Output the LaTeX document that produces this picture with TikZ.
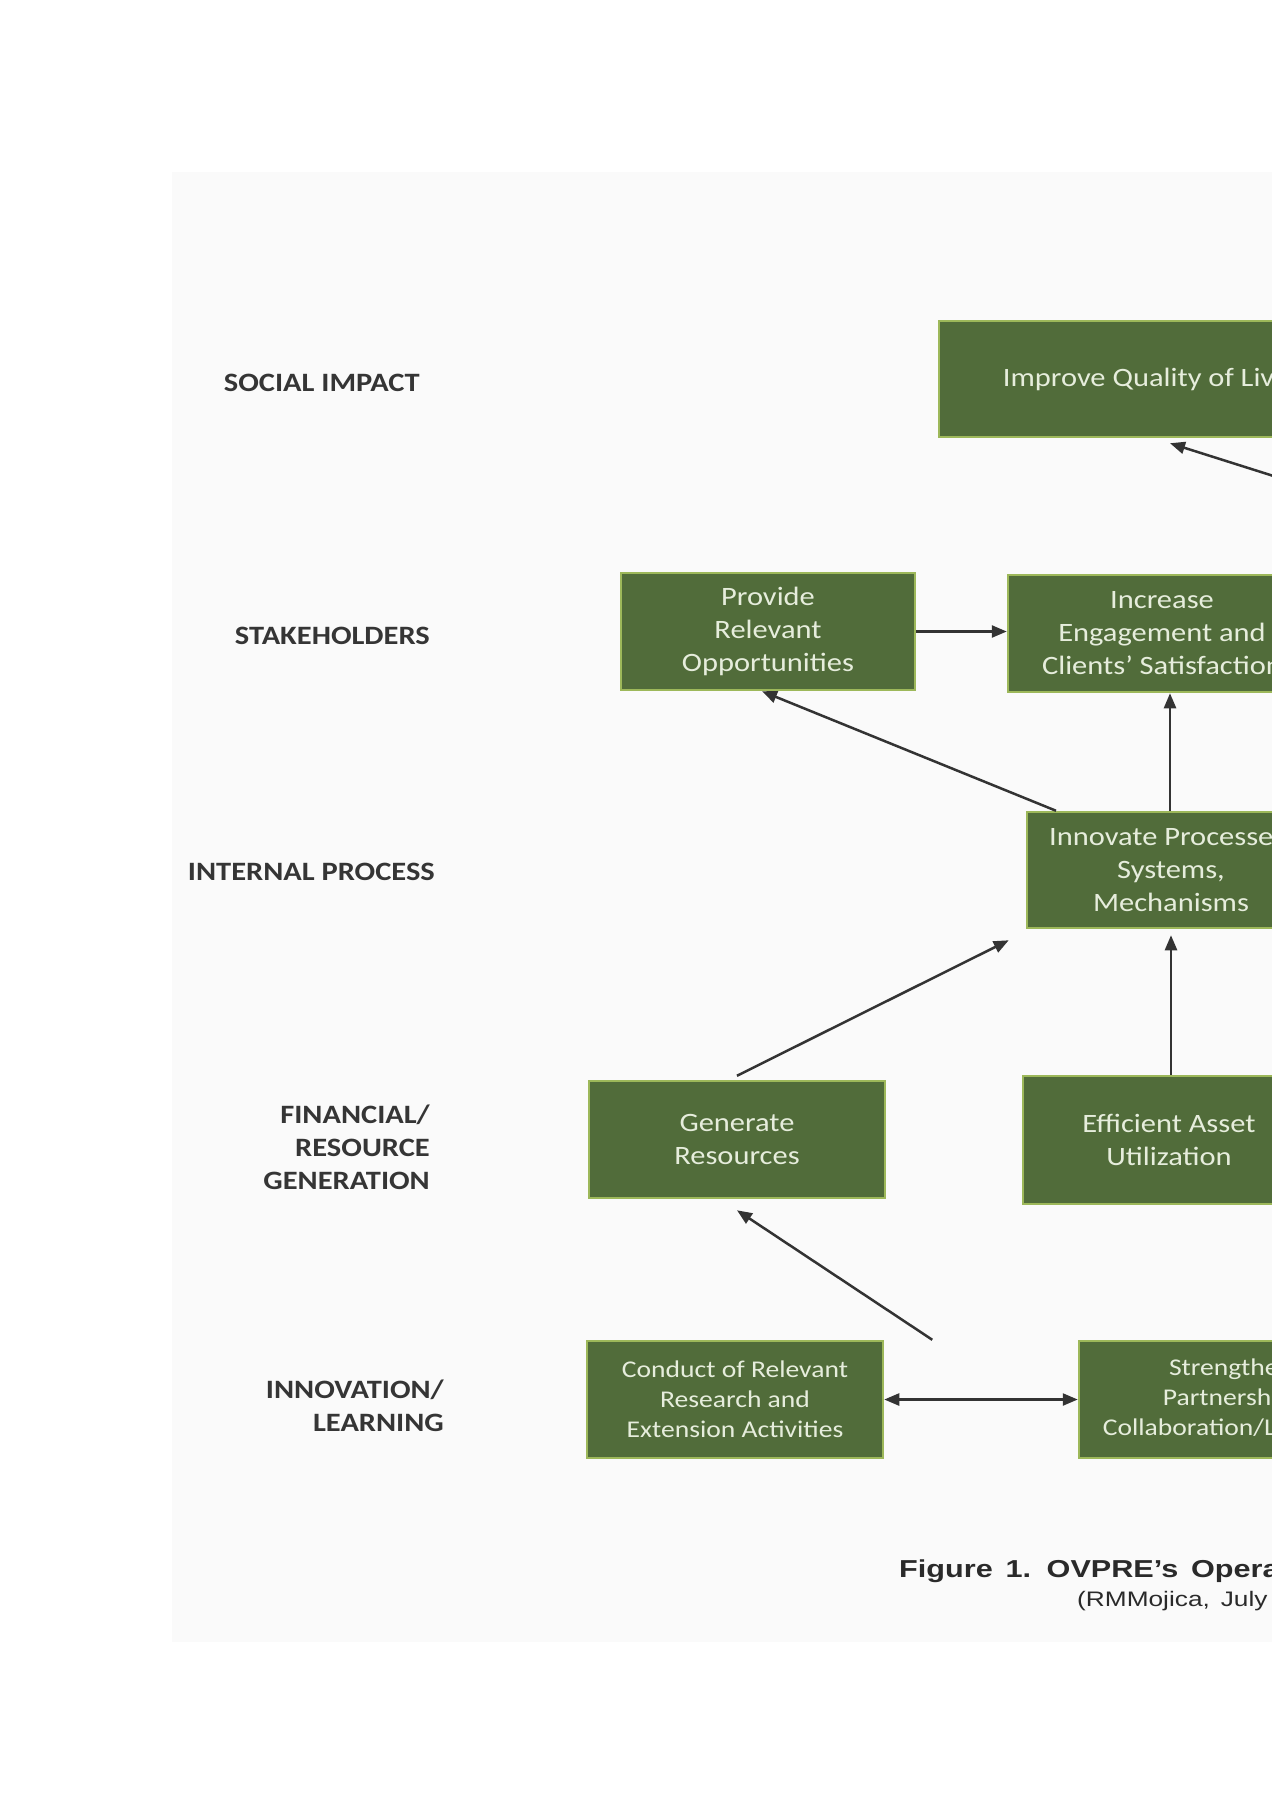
\documentclass[tikz,border=0pt]{standalone}
\usepackage{fontspec}
\setmainfont{Carlito}
\newfontfamily\boxfont[FakeStretch=1.15]{Carlito}
\newfontfamily\capfont[FakeStretch=1.25,WordSpace=1.8]{Liberation Sans}
\newfontfamily\capfontb[FakeStretch=1.25,WordSpace=1.5]{Liberation Sans}
\usetikzlibrary{arrows.meta}
\definecolor{boxfill}{HTML}{516C3A}
\definecolor{boxedge}{HTML}{9DB85A}
\definecolor{boxtext}{HTML}{E6EDDC}
\definecolor{labcol}{HTML}{353535}
\definecolor{capcol}{HTML}{2A2A2A}
\definecolor{arrcol}{HTML}{333333}
\definecolor{scanbg}{HTML}{FAFAFA}
\tikzset{
  box/.style={draw=boxedge, line width=2.5pt, fill=boxfill, text=boxtext,
    font=\boxfont\fontsize{26.5}{33}\selectfont, align=center, inner sep=0pt,
    minimum height=117pt},
  smallbox/.style={box, font=\boxfont\fontsize{24}{30}\selectfont},
  lab/.style={text=labcol, font=\boxfont\bfseries\fontsize{26.5}{33}\selectfont,
    align=right, inner sep=0pt, anchor=base east},
  conn/.style={draw=arrcol, line width=2.5pt, -{Triangle[length=15pt,width=12pt]}},
  conn2/.style={draw=arrcol, line width=2.5pt, {Triangle[length=15pt,width=12pt]}-{Triangle[length=15pt,width=12pt]}},
}
\begin{document}
\begin{tikzpicture}[x=1pt,y=-1pt]
\useasboundingbox (0,0) rectangle (1272,1800);
\clip (0,0) rectangle (1272,1800);
\fill[white] (0,0) rectangle (1272,1800);
\fill[scanbg] (172,172) rectangle (1272,1642);

% row labels (base anchor = last line)
\node[lab] (lsoc) at (420,391) {SOCIAL IMPACT};
\node[lab] (lsta) at (430,644) {STAKEHOLDERS};
\node[lab] (lint) at (435,880) {INTERNAL PROCESS};
\node[lab] (lfin) at (430,1189) {FINANCIAL/\\RESOURCE\\GENERATION};
\node[lab] (linn) at (444,1431) {INNOVATION/\\LEARNING};

% boxes
\node[box, minimum width=426pt, minimum height=116pt] (improve) at (1152,379) {Improve Quality of Lives};
\node[box, minimum width=294pt] (provide) at (768,631.5) {Provide\\Relevant\\Opportunities};
\node[box, minimum width=308pt] (increase) at (1162,633.5) {Increase\\Engagement and\\Clients’ Satisfaction};
\node[box, minimum width=288pt, minimum height=116pt] (innovate) at (1171,870) {Innovate Processes,\\Systems,\\Mechanisms};
\node[box, minimum width=296pt] (generate) at (737,1139.5) {Generate\\Resources};
\node[box, minimum width=292pt, minimum height=128pt] (efficient) at (1169,1140) {Efficient Asset\\Utilization};
\node[smallbox, minimum width=296pt] (conduct) at (735,1399.5) {Conduct of Relevant\\Research and\\Extension Activities};
\node[smallbox, minimum width=304pt] (strengthen) at (1231,1399.5) {Strengthen\\Partnership,\\Collaboration/Linkages};

% connectors
\coordinate (offright) at (1400,516);
\draw[conn] (offright) -- ([xshift=18pt,yshift=-5pt]improve.south);
\draw[conn] (provide.east) -- (provide.east -| increase.west);
\draw[conn] ([xshift=-115pt]innovate.north) -- ([xshift=-6pt]provide.south);
\draw[conn] ([xshift=-1pt]innovate.north) -- ([xshift=-1pt]innovate.north |- increase.south);
\draw[conn] ([yshift=4pt]generate.north) -- ([xshift=-17pt,yshift=-11pt]innovate.south west);
\draw[conn] ([xshift=2pt]efficient.north) -- ([xshift=2pt,yshift=-6pt]efficient.north |- innovate.south);
\draw[conn] ([xshift=48pt]conduct.north east) -- ([yshift=-11pt]generate.south);
\draw[conn2] (conduct.east) -- (conduct.east -| strengthen.west);

% caption
\node[anchor=base west, inner sep=0pt, text=capcol, font=\capfont\bfseries\fontsize{24.5}{30}\selectfont] (cap1) at (899,1577) {Figure 1. OVPRE’s Operational Framework};
\node[anchor=base west, inner sep=0pt, text=capcol, font=\capfontb\fontsize{21}{26}\selectfont] (cap2) at (1077,1606) {(RMMojica, July 2017)};
\end{tikzpicture}
\end{document}
